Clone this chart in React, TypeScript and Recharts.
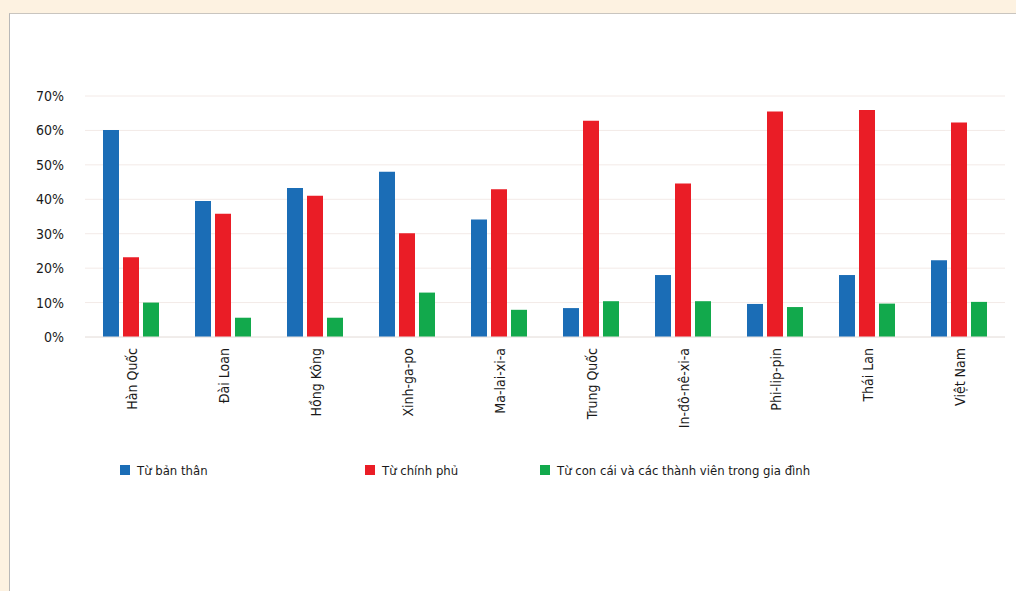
import React from 'react';
import { BarChart, Bar, XAxis, YAxis, CartesianGrid, Legend } from 'recharts';

const countries = [
  'Hàn Quốc',
  'Đài Loan',
  'Hồng Kông',
  'Xinh-ga-po',
  'Ma-lai-xi-a',
  'Trung Quốc',
  'In-đô-nê-xi-a',
  'Phi-lip-pin',
  'Thái Lan',
  'Việt Nam',
];
const fromSelf = [60.1, 39.5, 43.3, 48.0, 34.1, 8.4, 18.0, 9.6, 18.0, 22.3];
const fromGovernment = [23.2, 35.8, 41.0, 30.1, 42.9, 62.8, 44.6, 65.5, 65.9, 62.3];
const fromFamily = [10.0, 5.6, 5.6, 12.9, 7.9, 10.4, 10.4, 8.7, 9.7, 10.2];
const yTicks = [0, 10, 20, 30, 40, 50, 60, 70];

const seriesNames = ['Từ bản thân', 'Từ chính phủ', 'Từ con cái và các thành viên trong gia đình'];

const COLORS = ['#1b6db6', '#ea1d26', '#12a94c'];
const FONT = '"Liberation Sans Narrow", "DejaVu Sans Condensed", "Roboto", sans-serif';

const data = countries.map((name, i) => ({
  name,
  self: fromSelf[i],
  gov: fromGovernment[i],
  family: fromFamily[i],
}));

const CountryTick: React.FC<any> = ({ x, y, payload }) => (
  <text
    transform={`translate(${x + 1},${y + 3}) rotate(-90)`}
    textAnchor="end"
    dominantBaseline="central"
    fill="#1a1a1a"
    fontSize={14}
    fontFamily={FONT}
  >
    {payload.value}
  </text>
);

// legend slots sit at fixed columns like in the source layout
const legendLeft = [120, 365, 540];

const CustomLegend: React.FC<any> = () => (
  <div style={{ position: 'relative', height: 20, fontFamily: FONT, fontSize: 13, color: '#1a1a1a' }}>
    {seriesNames.map((label, i) => (
      <div
        key={label}
        style={{ position: 'absolute', left: legendLeft[i], top: 0, display: 'flex', alignItems: 'center', height: 20 }}
      >
        <span style={{ display: 'inline-block', width: 10, height: 10, background: COLORS[i], marginRight: 7 }} />
        <span>{label}</span>
      </div>
    ))}
  </div>
);

const App: React.FC = () => {
  return (
    <div
      style={{
        position: 'fixed',
        left: 0,
        top: 0,
        width: 1016,
        height: 591,
        background: '#fdf2e1',
        overflow: 'hidden',
      }}
    >
      <style>{'html, body { margin: 0; overflow: hidden; }'}</style>
      <div
        style={{
          position: 'absolute',
          left: 9,
          top: 13,
          right: 0,
          bottom: 0,
          background: '#ffffff',
          borderTop: '1px solid #c9c5bf',
          borderLeft: '1px solid #b8b8b8',
        }}
      />
      <div style={{ position: 'absolute', left: 0, top: 0 }}>
        <BarChart
          width={1016}
          height={591}
          data={data}
          margin={{ top: 96, right: 11, left: 0, bottom: 124 }}
          barGap={4}
          barSize={16}
        >
          <CartesianGrid vertical={false} stroke="#f3eae7" />
          <XAxis
            dataKey="name"
            height={110}
            interval={0}
            axisLine={{ stroke: '#e8e4e2' }}
            tickLine={false}
            tick={<CountryTick />}
            tickSize={6}
            tickMargin={2}
          />
          <YAxis
            width={85}
            domain={[0, 70]}
            ticks={yTicks}
            axisLine={false}
            tickLine={false}
            tickSize={6}
            tickMargin={15}
            tickFormatter={(v) => `${v}%`}
            tick={{ fill: '#1a1a1a', fontSize: 14, fontFamily: FONT }}
          />
          <Legend
            verticalAlign="bottom"
            align="left"
            layout="horizontal"
            wrapperStyle={{ top: 460, left: 0, width: 1016, height: 20, bottom: 'auto' }}
            content={<CustomLegend />}
          />
          <Bar dataKey="self" name={seriesNames[0]} fill={COLORS[0]} isAnimationActive={false} />
          <Bar dataKey="gov" name={seriesNames[1]} fill={COLORS[1]} isAnimationActive={false} />
          <Bar dataKey="family" name={seriesNames[2]} fill={COLORS[2]} isAnimationActive={false} />
        </BarChart>
      </div>
    </div>
  );
};

export default App;
